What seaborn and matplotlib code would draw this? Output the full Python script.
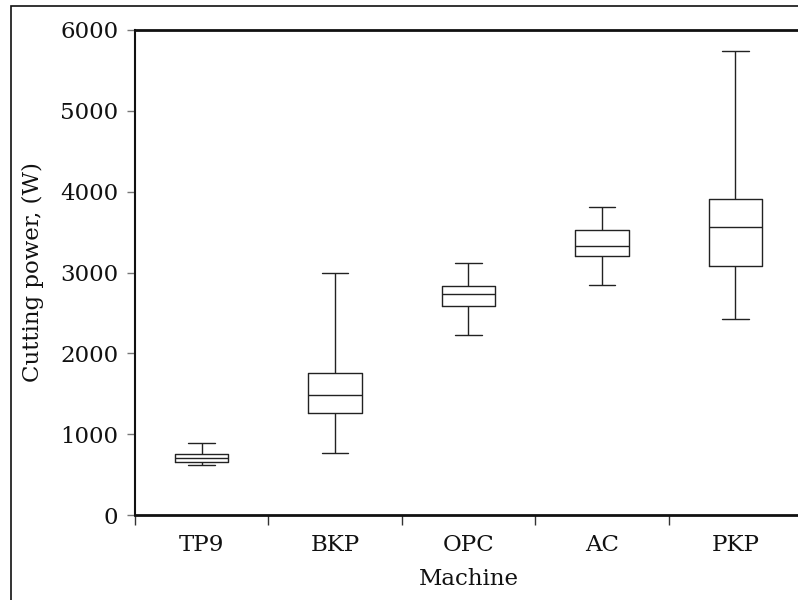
import matplotlib
matplotlib.use("Agg")
import matplotlib.pyplot as plt
from matplotlib.patches import Rectangle
from matplotlib.ticker import FixedLocator, NullFormatter
import seaborn as sns
import pandas as pd

machines = ["TP9", "BKP", "OPC", "AC", "PKP"]
# five-number summaries per machine: min, Q1, median, Q3, max (W)
mins = [615, 765, 2225, 2850, 2425]
q1s = [652, 1262, 2585, 3200, 3080]
medians = [709, 1484, 2734, 3328, 3566]
q3s = [758, 1757, 2833, 3526, 3905]
maxs = [894, 2994, 3117, 3812, 5740]
yticks = [0, 1000, 2000, 3000, 4000, 5000, 6000]

rows = []
for m, a, b, c, d, e in zip(machines, mins, q1s, medians, q3s, maxs):
    for v in (a, b, c, d, e):
        rows.append({"Machine": m, "Power": v})
df = pd.DataFrame(rows)

sns.set_theme(style="white")
plt.rcParams["font.family"] = ["DejaVu Serif"]
FS = 16.5

fig = plt.figure(figsize=(7.98, 6.0), dpi=100)
ax = fig.add_axes([135 / 798, 1 - 515 / 600, 667 / 798, 485 / 600])

line_kw = dict(color="#222222", linewidth=1.0)
sns.boxplot(
    data=df, x="Machine", y="Power", order=machines, ax=ax,
    whis=(0, 100), width=0.4, fill=False, color="#222222", linewidth=1.0,
    showfliers=False,
    boxprops=line_kw, whiskerprops=line_kw, capprops=line_kw, medianprops=line_kw,
)

ax.set_xlim(-0.5, 4.5)
ax.set_ylim(0, 6000)
ax.set_yticks(yticks)
ax.set_yticklabels([str(t) for t in yticks])

# category boundaries carry the tick marks; labels sit at box centres
ax.xaxis.set_minor_locator(FixedLocator([i - 0.5 for i in range(len(machines) + 1)]))
ax.xaxis.set_minor_formatter(NullFormatter())
ax.tick_params(axis="x", which="major", length=0, pad=14, labelsize=FS)
ax.tick_params(axis="x", which="minor", bottom=True, length=7, width=1.0, color="#333333", direction="out")
ax.tick_params(axis="y", which="major", left=True, length=6, width=1.0, color="#777777",
               direction="out", pad=6, labelsize=FS)

for side in ("left", "bottom", "top"):
    ax.spines[side].set_visible(True)
    ax.spines[side].set_color("#111111")
ax.spines["left"].set_linewidth(1.5)
ax.spines["bottom"].set_linewidth(2.0)
ax.spines["top"].set_linewidth(2.0)
ax.spines["right"].set_visible(False)

ax.set_xlabel("Machine", fontsize=FS, labelpad=8, color="#111111")
ax.set_ylabel("Cutting power, (W)", fontsize=FS, labelpad=12, color="#111111")
for lbl in ax.get_xticklabels() + ax.get_yticklabels():
    lbl.set_color("#111111")

# outer frame around the figure
fig.patches.append(Rectangle((11 / 798, -0.05), 1.1, 1 - 6 / 600 + 0.05,
                             transform=fig.transFigure, fill=False,
                             edgecolor="#111111", linewidth=1.2))

fig.savefig("out.png", dpi=100)
